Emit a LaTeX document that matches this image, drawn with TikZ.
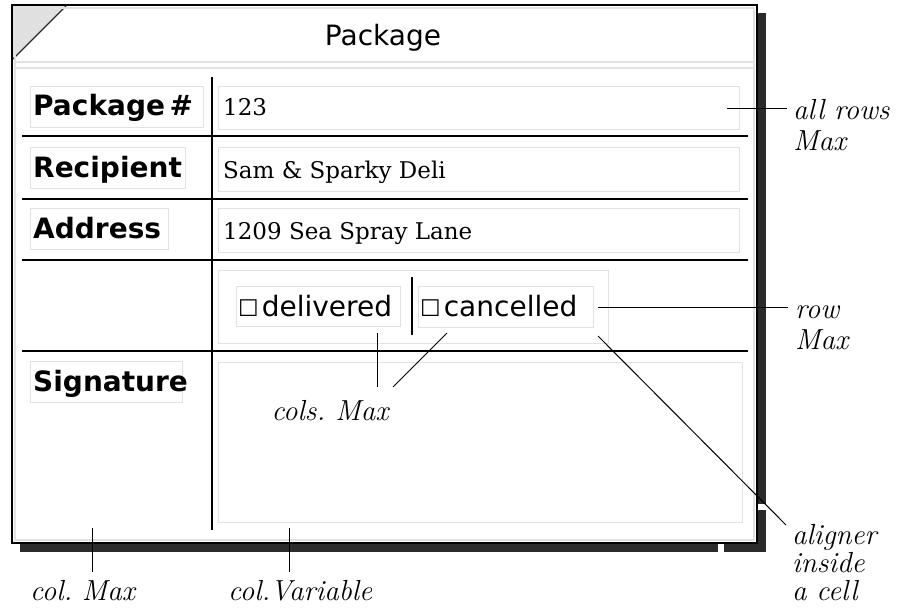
\documentclass[tikz,border=0pt]{standalone}
\usepackage{fontspec}
\newfontfamily\uisans{DejaVu Sans}
\newfontfamily\valserif{DejaVu Serif}
\definecolor{shadowgray}{HTML}{2B2B2B}
\definecolor{boxgray}{HTML}{E2E2E2}
\definecolor{trigray}{HTML}{E0E0E0}
\frenchspacing
\tikzset{
  frameline/.style={draw=black, line width=1.8pt},
  gridline/.style={draw=black, line width=1.8pt},
  softbox/.style={draw=boxgray, line width=1.2pt, rectangle, inner sep=0pt, anchor=north west},
  annot/.style={draw=black, line width=1pt},
  lbltext/.style={font=\uisans\bfseries\fontsize{28}{30}\selectfont, anchor=base west, inner sep=0pt},
  valtext/.style={font=\valserif\fontsize{23}{26}\selectfont, anchor=base west, inner sep=0pt},
  uitext/.style={font=\uisans\fontsize{28}{30}\selectfont, anchor=base west, inner sep=0pt},
  notetext/.style={font=\fontsize{29}{28}\selectfont\itshape, anchor=base west, inner sep=0pt, align=left, text width=120pt},
  notecenter/.style={font=\fontsize{29}{28}\selectfont\itshape, anchor=base, inner sep=0pt}
}
\begin{document}
\begin{tikzpicture}[x=1pt,y=-1pt]
\useasboundingbox (0,0) rectangle (901,607);
\fill[white] (0,0) rectangle (901,607);
% shadow
\fill[shadowgray] (757,13) rectangle (766,552);
\fill[shadowgray] (20,543) rectangle (766,552);
\fill[white] (718,543) rectangle (724,552);
\fill[white] (756,504) rectangle (767,510);
% window frame
\fill[white] (12,5) rectangle (757,543);
\fill[trigray] (13,6) -- (66,6) -- (13,59) -- cycle;
\draw[shadowgray, line width=1.2pt] (66,6) -- (13,59);
\draw[frameline] (12,5) rectangle (757,543);
\draw[boxgray, line width=1.2pt] (15,8) rectangle (754,540);
\draw[boxgray, line width=1.2pt] (15,62) -- (754,62);
\draw[boxgray, line width=1.2pt] (15,68) -- (754,68);
\node[uitext, anchor=base] (title) at (383,46) {Package};
% grid
\draw[gridline] (212,77) -- (212,530);
\draw[gridline] (22,136) -- (748,136);
\draw[gridline] (22,199) -- (748,199);
\draw[gridline] (22,260) -- (748,260);
\draw[gridline] (22,351) -- (748,351);
% label boxes
\node[softbox, minimum width=173pt, minimum height=41pt] (bpkg) at (30,86) {};
\node[softbox, minimum width=155pt, minimum height=41pt] (brec) at (30,147) {};
\node[softbox, minimum width=138pt, minimum height=41pt] (badr) at (30,208) {};
\node[softbox, minimum width=152pt, minimum height=41pt] (bsig) at (30,361) {};
\node[lbltext] (tpkg) at (33,116) {Package\,\#};
\node[lbltext] (trec) at (33,177) {Recipient};
\node[lbltext] (tadr) at (33,238) {Address};
\node[lbltext] (tsig) at (33,391) {Signature};
% value boxes
\node[softbox, minimum width=521pt, minimum height=43pt] (vpkg) at (218,86) {};
\node[softbox, minimum width=521pt, minimum height=44pt] (vrec) at (218,147) {};
\node[softbox, minimum width=521pt, minimum height=44pt] (vadr) at (218,208) {};
\node[softbox, minimum width=524pt, minimum height=160pt] (vsig) at (218,362) {};
\node[valtext] (xpkg) at (223,116) {123};
\node[valtext] (xrec) at (223,178) {Sam \& Sparky Deli};
\node[valtext] (xadr) at (223,239) {1209 Sea Spray Lane};
% checkbox aligner
\node[softbox, minimum width=390pt, minimum height=73pt] (group) at (218,270) {};
\node[softbox, minimum width=164pt, minimum height=40pt] (bdel) at (236,286) {};
\node[softbox, minimum width=175pt, minimum height=41pt] (bcan) at (418,286) {};
\draw[gridline] (412,277) -- (412,335);
\node[uitext] (tdel) at (238,316) {{\fontsize{23}{23}\selectfont ☐}\hspace{3pt}delivered};
\node[uitext] (tcan) at (420,316) {{\fontsize{23}{23}\selectfont ☐}\hspace{3pt}cancelled};
% annotations
\coordinate (a1) at (727,109);
\coordinate (a1e) at (787,109);
\node[notetext] (nall) at (793,120) {all rows\\[2pt]Max};
\draw[annot] (a1) -- (a1e);
\coordinate (a2) at (598,307);
\coordinate (a2e) at (788,307);
\node[notetext] (nrow) at (795,318) {row\\[3pt]Max};
\draw[annot] (a2) -- (a2e);
\coordinate (c1) at (377,333);
\coordinate (c1e) at (377,387);
\coordinate (c2) at (447,333);
\coordinate (c2e) at (393,387);
\node[notecenter] (ncols) at (330,420) {cols. Max};
\draw[annot] (c1) -- (c1e);
\draw[annot] (c2) -- (c2e);
\coordinate (g1) at (598,336);
\coordinate (g1e) at (786,525);
\node[notetext] (nalign) at (792,544) {aligner\\inside\\a cell};
\draw[annot] (g1) -- (g1e);
\coordinate (m1) at (92,528);
\coordinate (m1e) at (92,572);
\node[notetext] (ncolmax) at (30,600) {col. Max};
\draw[annot] (m1) -- (m1e);
\coordinate (v1) at (289,528);
\coordinate (v1e) at (289,572);
\node[notetext] (ncolvar) at (228,600) {col.Variable};
\draw[annot] (v1) -- (v1e);
\end{tikzpicture}
\end{document}
